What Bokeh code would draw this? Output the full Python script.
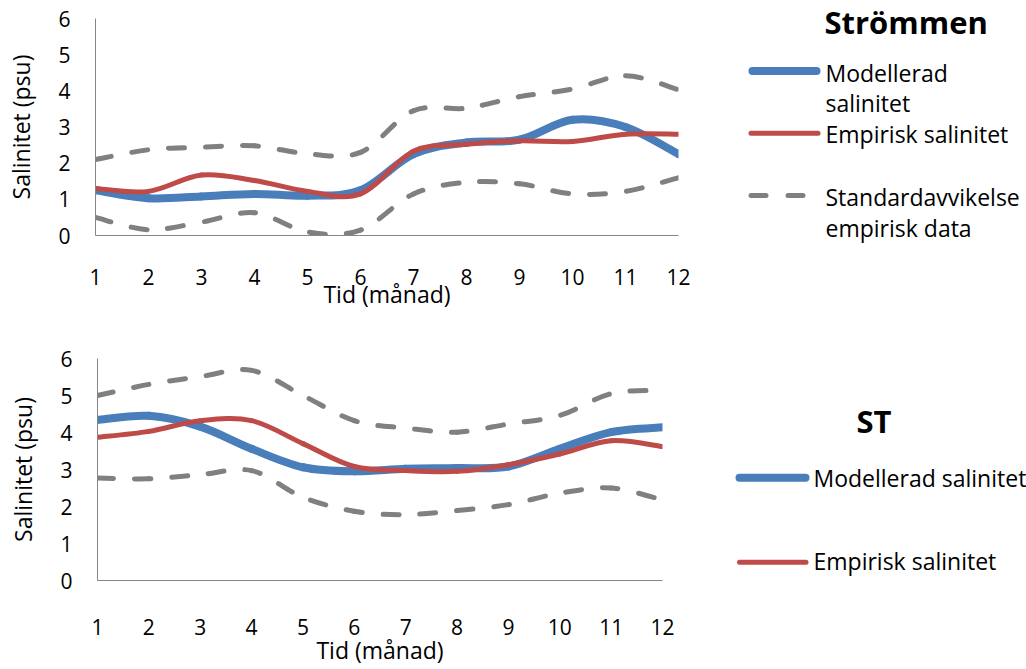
import numpy as np
from bokeh.plotting import figure
from bokeh.layouts import column, row
from bokeh.models import Range1d, FixedTicker, ColumnDataSource
from bokeh.core.properties import value
from bokeh.embed import file_html
from bokeh.resources import INLINE

# Months on the x axis and salinity ticks on the y axis
months = list(range(1, 13))
y_ticks = [0, 1, 2, 3, 4, 5, 6]

# Strömmen (psu)
strommen_model = [1.25, 1.03, 1.08, 1.15, 1.10, 1.25, 2.25, 2.57, 2.65, 3.20, 3.00, 2.25]
strommen_emp = [1.30, 1.22, 1.67, 1.52, 1.22, 1.15, 2.33, 2.52, 2.62, 2.60, 2.80, 2.80]
strommen_sd_hi = [2.10, 2.37, 2.44, 2.48, 2.26, 2.30, 3.45, 3.52, 3.84, 4.05, 4.42, 4.03]
strommen_sd_lo = [0.50, 0.16, 0.37, 0.63, 0.10, 0.15, 1.15, 1.47, 1.43, 1.15, 1.22, 1.60]

# ST (psu)
st_model = [4.34, 4.45, 4.16, 3.56, 3.06, 2.95, 3.02, 3.04, 3.08, 3.56, 4.01, 4.14]
st_emp = [3.87, 4.03, 4.32, 4.32, 3.70, 3.08, 2.97, 2.95, 3.13, 3.42, 3.78, 3.62]
st_sd_hi = [5.00, 5.30, 5.51, 5.68, 5.00, 4.32, 4.12, 4.01, 4.23, 4.46, 5.05, 5.14]
st_sd_lo = [2.77, 2.75, 2.86, 2.97, 2.25, 1.87, 1.78, 1.89, 2.05, 2.36, 2.50, 2.18]

BLUE = "#4a7ebb"
RED = "#be4b48"
GREY = "#808080"
AXIS = "#868686"
FONT = "Open Sans"

DASH = (16, 21)


def smooth_segments(xs, ys, px_x, px_y):
    """Catmull-Rom style cubic Bezier segments through the points,
    plus a running dash offset so a dash pattern flows across segments."""
    x = np.asarray(xs, float)
    y = np.asarray(ys, float)
    n = len(x)
    xp = np.concatenate([[x[0]], x, [x[-1]]])
    yp = np.concatenate([[y[0]], y, [y[-1]]])
    x0, y0, x1, y1 = x[:-1], y[:-1], x[1:], y[1:]
    cx0 = x0 + (xp[2:n + 1] - xp[0:n - 1]) / 6.0
    cy0 = y0 + (yp[2:n + 1] - yp[0:n - 1]) / 6.0
    cx1 = x1 - (xp[3:n + 2] - xp[1:n]) / 6.0
    cy1 = y1 - (yp[3:n + 2] - yp[1:n]) / 6.0

    def d(ax, ay, bx, by):
        return np.hypot((bx - ax) * px_x, (by - ay) * px_y)

    chord = d(x0, y0, x1, y1)
    poly = d(x0, y0, cx0, cy0) + d(cx0, cy0, cx1, cy1) + d(cx1, cy1, x1, y1)
    length = (chord + poly) / 2.0
    start = np.concatenate([[0.0], np.cumsum(length)[:-1]])
    period = sum(DASH)
    offset = np.round(start % period).astype(int)
    return dict(x0=x0, y0=y0, x1=x1, y1=y1, cx0=cx0, cy0=cy0,
                cx1=cx1, cy1=cy1, offset=offset)


def chart(width, height, left, right, top, bottom, series, tick_standoff, label_standoff):
    p = figure(width=width, height=height, x_range=Range1d(1, 12), y_range=Range1d(0, 6),
               toolbar_location=None, output_backend="svg", frame_align=False,
               min_border_left=left, min_border_right=right,
               min_border_top=top, min_border_bottom=bottom,
               x_axis_label="Tid (månad)", y_axis_label="Salinitet (psu)")
    fw = width - left - right
    fh = height - top - bottom
    px_x = fw / 11.0
    px_y = fh / 6.0
    for ys, color, lw, dashed in series:
        src = ColumnDataSource(smooth_segments(months, ys, px_x, px_y))
        kw = dict(line_color=color, line_width=lw, line_cap="round", line_join="round")
        if dashed:
            kw.update(line_dash="%d %d" % DASH, line_dash_offset="offset")
        p.bezier(x0="x0", y0="y0", x1="x1", y1="y1", cx0="cx0", cy0="cy0",
                 cx1="cx1", cy1="cy1", source=src, **kw)

    p.xaxis.ticker = FixedTicker(ticks=months)
    p.yaxis.ticker = FixedTicker(ticks=y_ticks)
    for ax in (p.xaxis[0], p.yaxis[0]):
        ax.axis_line_color = AXIS
        ax.axis_line_width = 1
        ax.major_tick_line_color = None
        ax.minor_tick_line_color = None
        ax.major_tick_in = 0
        ax.major_tick_out = 0
        ax.major_label_text_font = FONT
        ax.major_label_text_font_size = "21px"
        ax.major_label_text_color = "black"
        ax.axis_label_text_font = FONT
        ax.axis_label_text_font_size = "23px"
        ax.axis_label_text_font_style = "normal"
        ax.axis_label_text_color = "black"
    p.xaxis.major_label_standoff = tick_standoff
    p.xaxis.axis_label_standoff = label_standoff
    p.yaxis.major_label_standoff = 25
    p.yaxis.axis_label_standoff = 18
    p.xgrid.visible = False
    p.ygrid.visible = False
    p.outline_line_color = None
    p.background_fill_color = None
    p.border_fill_color = None
    return p


def legend_panel(height, y_top, title, title_xy, items):
    lf = figure(width=326, height=height, x_range=Range1d(700, 1026),
                y_range=Range1d(y_top + height, y_top), toolbar_location=None,
                output_backend="svg", frame_align=False,
                min_border=0, x_axis_type=None, y_axis_type=None)
    lf.xgrid.visible = False
    lf.ygrid.visible = False
    lf.outline_line_color = None
    lf.background_fill_color = None
    lf.border_fill_color = None
    lf.text(x=[title_xy[0]], y=[title_xy[1]], text=[title], text_font=value(FONT),
            text_font_size="31px", text_font_style="bold", text_color="black",
            text_align="left", text_baseline="middle")
    for (xa, xb, ys, color, lw, dash, tx, lines) in items:
        kw = dict(line_color=color, line_width=lw, line_cap="round")
        if dash:
            kw["line_dash"] = dash
        lf.line(x=[xa, xb], y=[ys, ys], **kw)
        lf.text(x=[tx] * len(lines), y=[c for c, _ in lines], text=[t for _, t in lines],
                text_font=value(FONT), text_font_size="23px", text_color="black",
                text_align="left", text_baseline="middle")
    return lf


top_chart = chart(700, 320, 95, 22, 18, 85,
                  [(strommen_model, BLUE, 8, False), (strommen_emp, RED, 5, False),
                   (strommen_sd_hi, GREY, 5, True), (strommen_sd_lo, GREY, 5, True)],
                  tick_standoff=33, label_standoff=-10)
top_legend = legend_panel(320, 0, "Strömmen", (824, 21), [
    (752, 816, 70.5, BLUE, 8, None, 825, [(72, "Modellerad"), (102, "salinitet")]),
    (750.5, 817.5, 132.7, RED, 5, None, 825, [(133, "Empirisk salinitet")]),
    (750.5, 802.5, 195, GREY, 5, "15 22", 825, [(196, "Standardavvikelse"), (227, "empirisk data")]),
])

bottom_chart = chart(700, 349, 97, 38, 38, 89,
                     [(st_model, BLUE, 8, False), (st_emp, RED, 5, False),
                      (st_sd_hi, GREY, 5, True), (st_sd_lo, GREY, 5, True)],
                     tick_standoff=38, label_standoff=-4)
bottom_legend = legend_panel(349, 320, "ST", (856, 420), [
    (739, 805, 477.3, BLUE, 8, None, 813, [(477, "Modellerad salinitet")]),
    (739, 805.5, 561.7, RED, 5, None, 813, [(560.5, "Empirisk salinitet")]),
])

page = column(row(top_chart, top_legend), row(bottom_chart, bottom_legend))

with open("out.html", "w") as f:
    f.write(file_html(page, INLINE))
